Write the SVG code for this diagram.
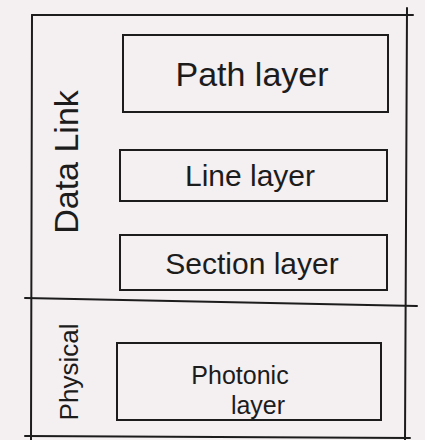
<svg xmlns="http://www.w3.org/2000/svg" width="425" height="440" viewBox="0 0 425 440">
  <style>
    .bg { fill: #f4eff1; }
    .frame { stroke: #1c1c1c; stroke-width: 2; fill: none; stroke-linecap: round; }
    .box { stroke: #1c1c1c; stroke-width: 2; fill: none; }
    .lbl { font-family: "Liberation Sans", "DejaVu Sans", sans-serif; fill: #1c1c1c; text-anchor: middle; }
  </style>
  <rect class="bg" x="0" y="0" width="425" height="440"/>
  <g id="frame">
    <line class="frame" x1="32" y1="15" x2="413" y2="15"/>
    <line class="frame" x1="32" y1="15" x2="31" y2="440"/>
    <line class="frame" x1="407" y1="8" x2="405" y2="440"/>
    <line class="frame" x1="25" y1="298" x2="417" y2="306"/>
    <line class="frame" x1="25" y1="436" x2="410" y2="438"/>
  </g>
  <g id="data-link">
    <text class="lbl" font-size="34" transform="translate(78,162) rotate(-90)">Data Link</text>
  </g>
  <g id="physical">
    <text class="lbl" font-size="26" transform="translate(78,372) rotate(-90)">Physical</text>
  </g>
  <g id="path-layer">
    <rect class="box" x="123" y="35" width="265" height="77"/>
    <text class="lbl" font-size="34" x="252" y="86">Path layer</text>
  </g>
  <g id="line-layer">
    <rect class="box" x="120" y="150" width="267" height="51"/>
    <text class="lbl" font-size="30" x="250" y="186">Line layer</text>
  </g>
  <g id="section-layer">
    <rect class="box" x="120" y="235" width="267" height="55"/>
    <text class="lbl" font-size="30" x="252" y="274">Section layer</text>
  </g>
  <g id="photonic-layer">
    <rect class="box" x="117" y="343" width="264" height="77"/>
    <text class="lbl" font-size="25" x="240" y="384">Photonic</text>
    <text class="lbl" font-size="25" x="258" y="414">layer</text>
  </g>
  <g id="connectors"></g>
</svg>
